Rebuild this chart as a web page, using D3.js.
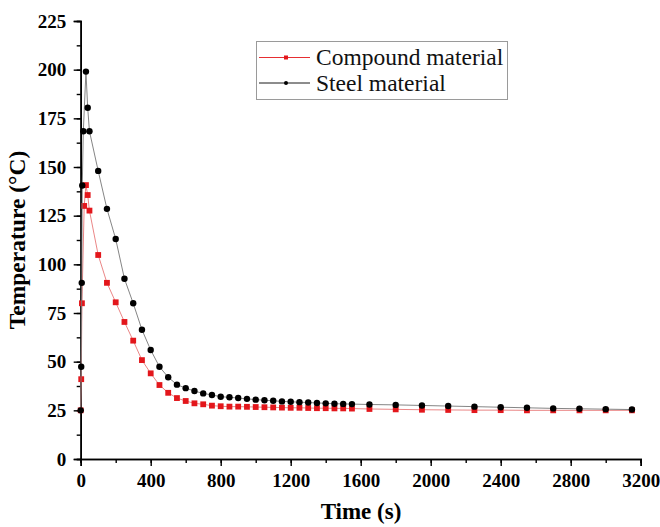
<!DOCTYPE html>
<html>
<head>
<meta charset="utf-8">
<script src="https://cdn.jsdelivr.net/npm/d3@7"></script>
<style>
  html, body { margin: 0; padding: 0; background: #fff; }
  svg { display: block; }
  svg text { font-family: "Liberation Serif", "Times New Roman", serif; }
</style>
</head>
<body>
<svg id="chart" width="660" height="527"></svg>
<script>
// ── Data ───────────────────────────────────────────────────────────
const STEEL_T = [0, 3, 6, 9, 15, 30, 40, 50, 100, 150, 200, 250, 300, 350, 400, 450, 500, 550, 600, 650,
  700, 750, 800, 850, 900, 950, 1000, 1050, 1100, 1150, 1200, 1250, 1300, 1350, 1400, 1450, 1500, 1550,
  1650, 1800, 1950, 2100, 2250, 2400, 2550, 2700, 2850, 3000, 3150];
const STEEL_V = [25, 47.4, 90.5, 140.5, 168.4, 199, 180.4, 168.4, 148, 128.5, 113, 92.6, 80, 66.4, 56, 47.4, 42, 38.2, 36.4, 34.9,
  33.7, 32.9, 32.0, 31.7, 31.3, 30.9, 30.5, 30.2, 29.9, 29.6, 29.4, 29.2, 29.0, 28.8, 28.6, 28.4, 28.3, 28.2,
  28.0, 27.8, 27.5, 27.2, 26.9, 26.6, 26.3, 26.0, 25.8, 25.6, 25.4];

const COMP_T = [0, 3, 7, 20, 30, 40, 50, 100, 150, 200, 250, 300, 350, 400, 450, 500, 550, 600, 650,
  700, 750, 800, 850, 900, 950, 1000, 1050, 1100, 1150, 1200, 1250, 1300, 1350, 1400, 1450, 1500, 1550,
  1650, 1800, 1950, 2100, 2250, 2400, 2550, 2700, 2850, 3000, 3150];
const COMP_V = [25, 41, 80, 130, 140.7, 135.6, 127.6, 104.8, 90.5, 80.5, 70.4, 60.8, 50.8, 44, 38, 34, 31.3, 29.8, 28.6,
  28.1, 27.4, 27.1, 26.9, 26.9, 26.8, 26.7, 26.6, 26.5, 26.4, 26.3, 26.3, 26.2, 26.1, 26.1, 26.0, 26.0, 25.9,
  25.7, 25.5, 25.3, 25.2, 25.1, 25.1, 25.0, 25.0, 25.0, 25.0, 25.0];

const X_TICKS = [0, 400, 800, 1200, 1600, 2000, 2400, 2800, 3200];
const Y_TICKS = [0, 25, 50, 75, 100, 125, 150, 175, 200, 225];

const SERIES = [
  { name: "Compound material", t: COMP_T, v: COMP_V, color: "#e3161b", line: "#e87878", shape: "square" },
  { name: "Steel material",    t: STEEL_T, v: STEEL_V, color: "#000000", line: "#777777", shape: "circle" }
];

// ── Scales ──────────────────────────────────────────────────────────
const svg = d3.select("#chart");
const x = d3.scaleLinear().domain([0, 3200]).range([80.7, 640.7]);
const y = d3.scaleLinear().domain([0, 225]).range([459, 21]);

// ── Axes ────────────────────────────────────────────────────────────
const xMinor = d3.range(0, 3201, 200);
const yMinor = d3.range(0, 226, 12.5);

function styleAxis(g) {
  g.selectAll("g").attr("font-family", null).attr("font-size", null);
  g.attr("font-family", null).attr("font-size", null);
  g.selectAll("path.domain").attr("stroke", "#000").attr("stroke-width", 1.6);
  g.selectAll(".tick line").attr("stroke", "#000").attr("stroke-width", 1.4);
  g.selectAll(".tick text")
    .style("font-family", "'Liberation Serif', 'Times New Roman', serif")
    .style("font-size", "19px").style("font-weight", "bold").attr("fill", "#000");
}

const gx = svg.append("g").attr("transform", `translate(0,${y(0)})`);
gx.call(d3.axisBottom(x).tickValues(xMinor).tickSize(4).tickFormat(""));
gx.append("g").call(d3.axisBottom(x).tickValues(X_TICKS).tickSize(7).tickFormat(d3.format("d")));
styleAxis(gx);
gx.selectAll(".tick text").attr("dy", "0.95em");

const gy = svg.append("g").attr("transform", `translate(${x(0)},0)`);
gy.call(d3.axisLeft(y).tickValues(yMinor).tickSize(4).tickFormat(""));
gy.append("g").call(d3.axisLeft(y).tickValues(Y_TICKS).tickSize(7).tickFormat(d3.format("d")));
styleAxis(gy);
gy.selectAll(".tick text").attr("x", -14.5);

// Axis titles
svg.append("text")
  .attr("x", 361).attr("y", 519)
  .attr("text-anchor", "middle")
  .style("font-size", "23px").style("font-weight", "bold")
  .text("Time (s)");

svg.append("text")
  .attr("transform", "translate(25,240) rotate(-90)")
  .attr("text-anchor", "middle")
  .style("font-size", "23.5px").style("font-weight", "bold")
  .text("Temperature (°C)");

// ── Series ──────────────────────────────────────────────────────────
const line = d3.line().x(d => x(d[0])).y(d => y(d[1]));

SERIES.forEach(s => {
  const pts = s.t.map((t, i) => [t, s.v[i]]);
  const g = svg.append("g");
  g.append("path")
    .datum(pts)
    .attr("d", line)
    .attr("fill", "none")
    .attr("stroke", s.line)
    .attr("stroke-width", 0.9);

  if (s.shape === "square") {
    g.selectAll("rect").data(pts).join("rect")
      .attr("x", d => x(d[0]) - 2.9).attr("y", d => y(d[1]) - 2.9)
      .attr("width", 5.8).attr("height", 5.8)
      .attr("fill", s.color);
  } else {
    g.selectAll("circle").data(pts).join("circle")
      .attr("cx", d => x(d[0])).attr("cy", d => y(d[1]))
      .attr("r", 3.2)
      .attr("fill", s.color);
  }
});

// ── Legend ──────────────────────────────────────────────────────────
const lg = svg.append("g");
lg.append("rect")
  .attr("x", 256.5).attr("y", 41.5).attr("width", 251).attr("height", 58)
  .attr("fill", "#fff").attr("stroke", "#9a9a9a").attr("stroke-width", 1);

SERIES.forEach((s, i) => {
  const cy = 57.5 + i * 25.5;
  lg.append("line")
    .attr("x1", 259).attr("x2", 310).attr("y1", cy).attr("y2", cy)
    .attr("stroke", s.shape === "square" ? "#e3161b" : "#000").attr("stroke-width", 0.9);
  if (s.shape === "square") {
    lg.append("rect").attr("x", 284).attr("y", cy - 2).attr("width", 4).attr("height", 4).attr("fill", s.color);
  } else {
    lg.append("circle").attr("cx", 286).attr("cy", cy).attr("r", 2).attr("fill", s.color);
  }
  lg.append("text")
    .attr("x", 316).attr("y", cy).attr("dy", "0.34em")
    .style("font-size", "23.5px").attr("fill", "#111")
    .text(s.name);
});
</script>
</body>
</html>
